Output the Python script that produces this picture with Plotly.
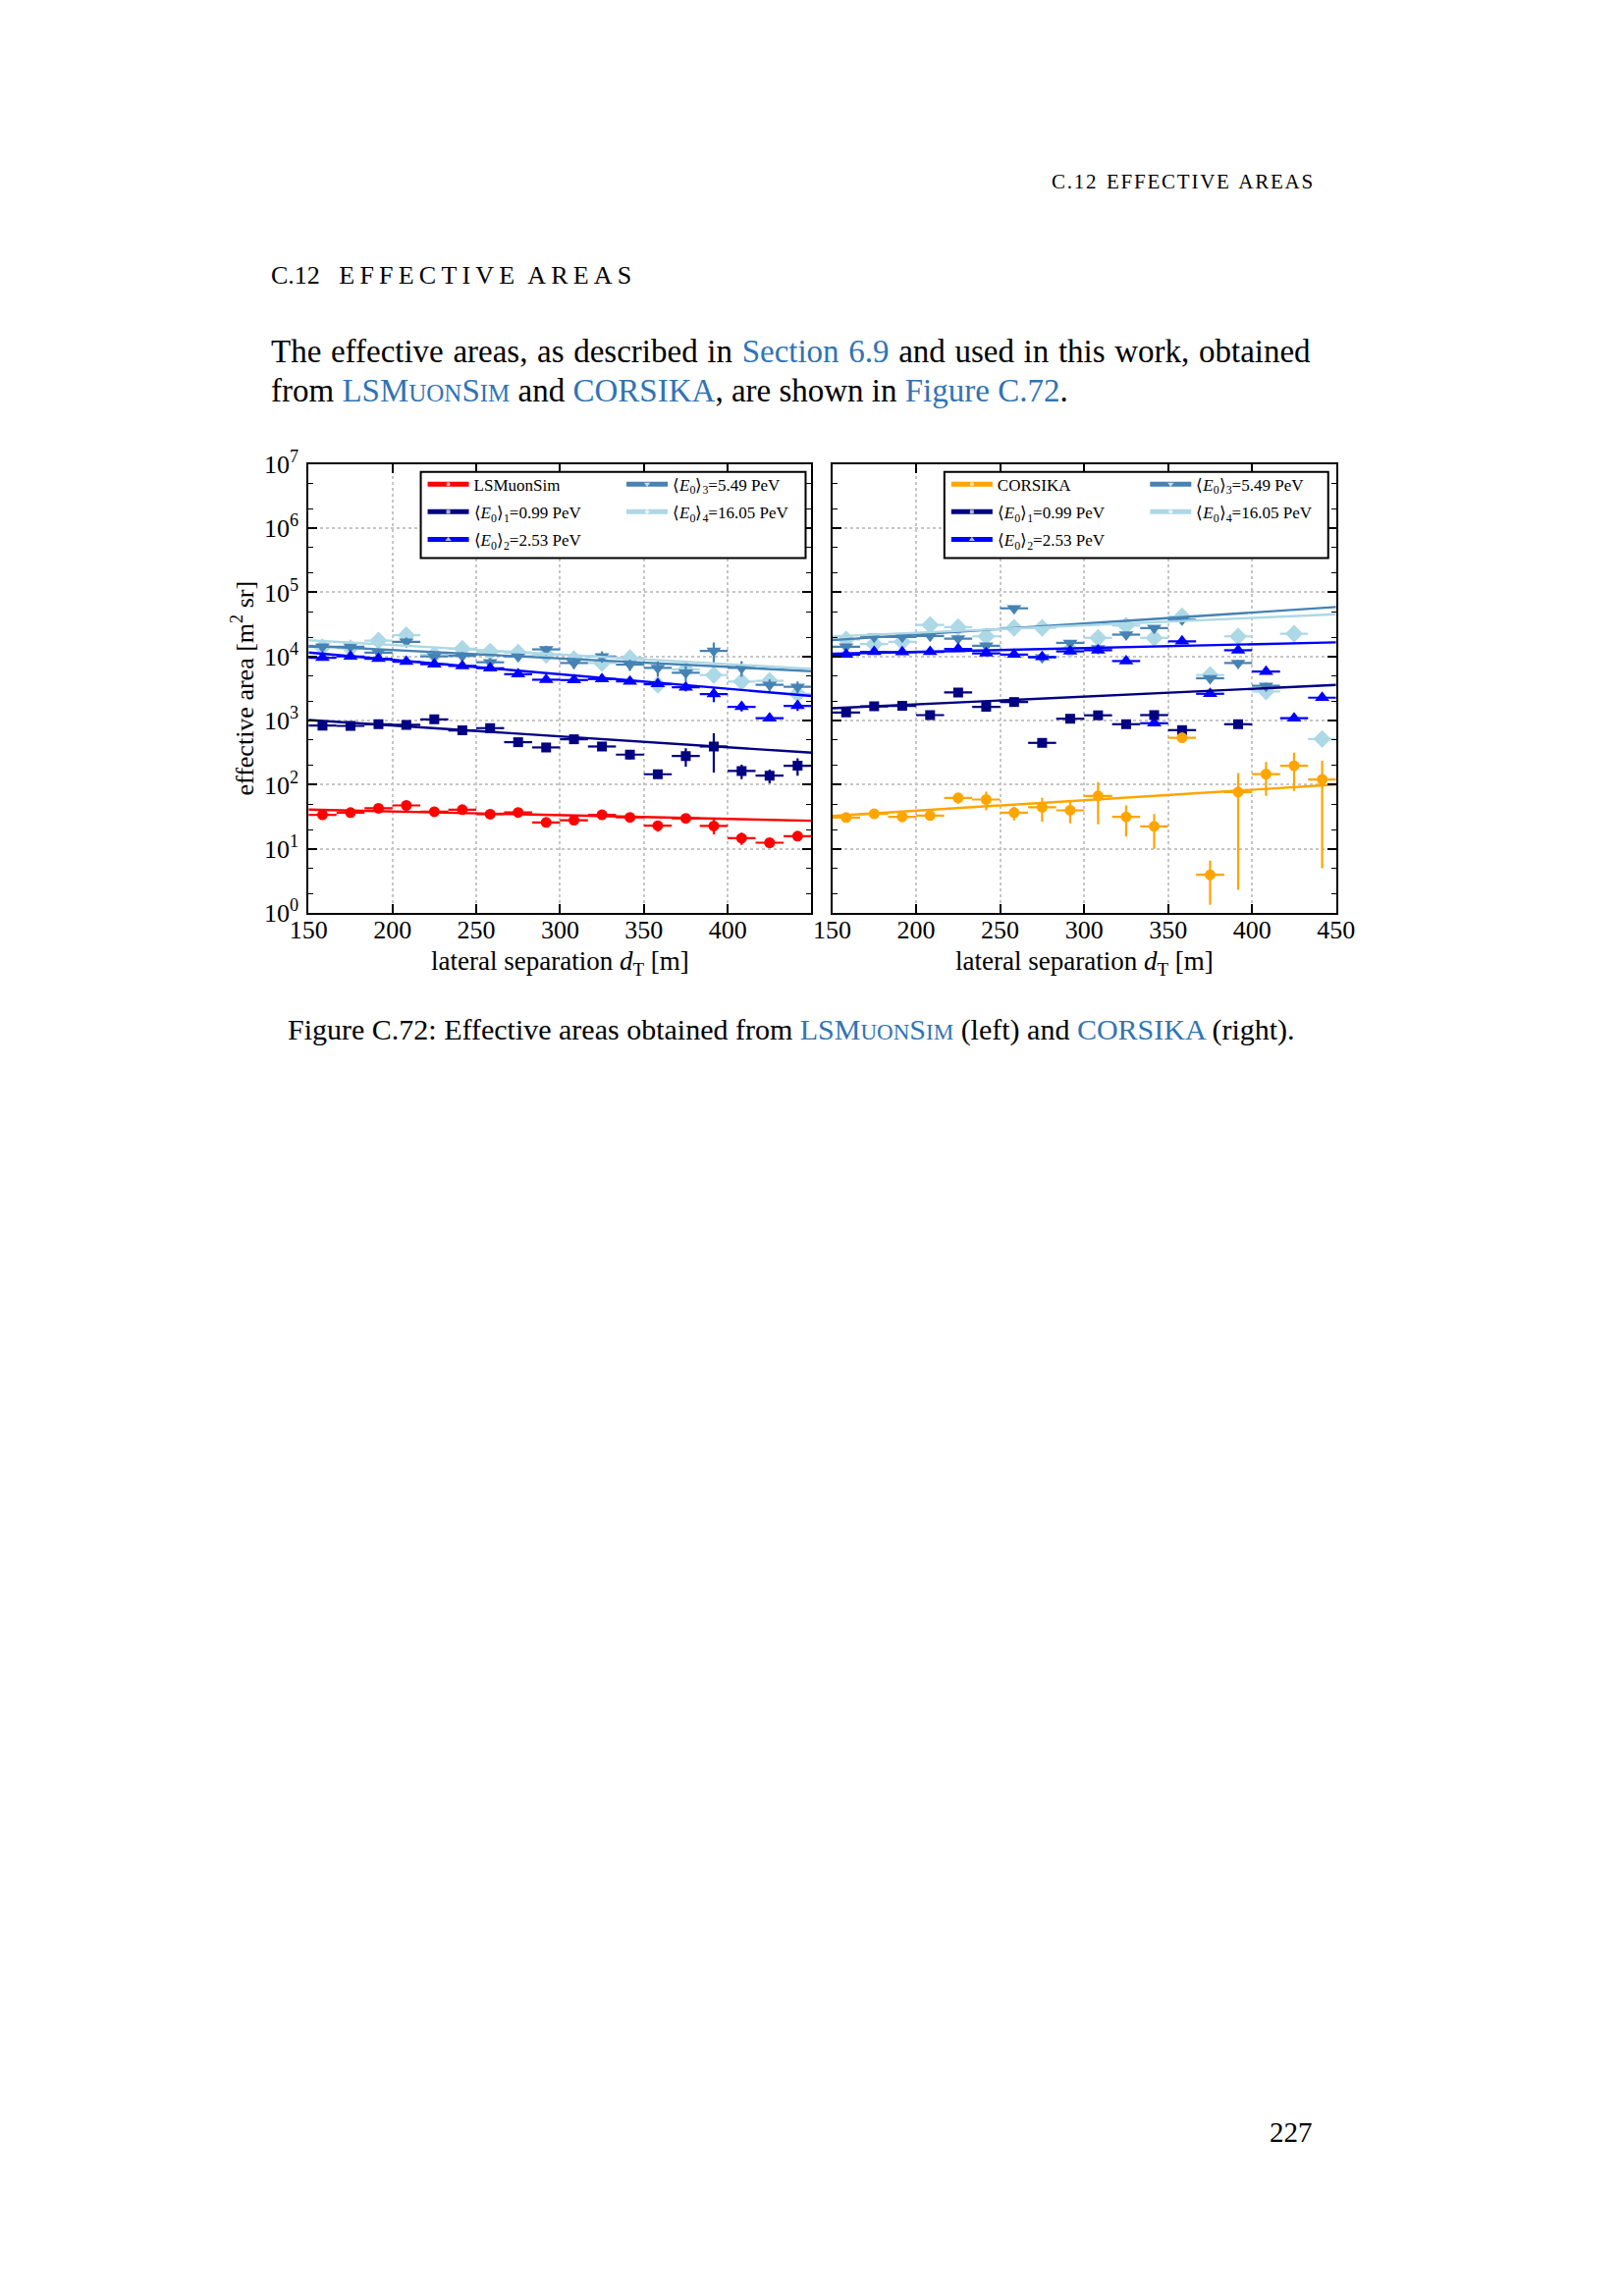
import plotly.graph_objects as go

# ---------------- data ----------------
x_centers = [158.3, 175.0, 191.7, 208.3, 225.0, 241.7, 258.3, 275.0, 291.7,
             308.3, 325.0, 341.7, 358.3, 375.0, 391.7, 408.3, 425.0, 441.7]
x_fit = [150, 450]
x_ticks = [150, 200, 250, 300, 350, 400, 450]
x_ticktext_left = ["150", "200", "250", "300", "350", "400", ""]
x_ticktext_right = ["150", "200", "250", "300", "350", "400", "450"]
y_ticks = [1, 10, 100, 1000, 10000, 100000, 1000000, 10000000]
y_ticktext = ["10<sup>0</sup>", "10<sup>1</sup>", "10<sup>2</sup>", "10<sup>3</sup>",
              "10<sup>4</sup>", "10<sup>5</sup>", "10<sup>6</sup>", "10<sup>7</sup>"]

series_names_left = ["LSMuonSim",
                     "⟨<i>E</i><sub>0</sub>⟩<sub>1</sub>=0.99 PeV",
                     "⟨<i>E</i><sub>0</sub>⟩<sub>2</sub>=2.53 PeV",
                     "⟨<i>E</i><sub>0</sub>⟩<sub>3</sub>=5.49 PeV",
                     "⟨<i>E</i><sub>0</sub>⟩<sub>4</sub>=16.05 PeV"]
series_names_right = ["CORSIKA"] + series_names_left[1:]

# LSMuonSim (left panel)
lsm_all = [34, 36.8, 43, 47.7, 38, 41, 34.8, 37, 25.9, 28, 34, 31, 23, 30, 22.8, 14.7, 12.5, 15.8]
lsm_all_err = [2.5, 2.5, 3, 3.5, 3, 3, 2.5, 3, 2.5, 3, 3.5, 3.5, 4.5, 3.5, 6, 3.2, 1.8, 2]
lsm_e1 = [838, 828, 879, 858, 1048, 703, 764, 461, 382, 512, 395, 295, 146, 281, 395, 164, 139, 198]
lsm_e1_err = [60, 55, 60, 60, 80, 60, 65, 45, 35, 80, 45, 45, 12, 90, 240, 42, 34, 60]
lsm_e2 = [9550, 10000, 9210, 8280, 7550, 7120, 6550, 5300, 4340, 4290, 4450, 4090, 3720, 3310, 2590, 1640, 1090, 1700]
lsm_e2_err = [500, 500, 500, 450, 400, 400, 400, 350, 300, 300, 350, 350, 350, 450, 650, 250, 120, 280]
lsm_e3 = [14200, 14200, 11500, 16900, 10000, 10200, 8110, 10000, 12900, 7910, 10000, 7460, 6640, 5570, 12200, 6640, 3610, 3370]
lsm_e3_err = [1500, 1500, 1700, 2800, 1500, 1500, 1300, 1400, 1800, 1500, 2000, 1500, 1800, 1500, 4300, 1800, 800, 700]
lsm_e4 = [13900, 13400, 17700, 21400, 10600, 13200, 11900, 11500, 10600, 9100, 7910, 9440, 3610, 6270, 5140, 4060, 4160, 2610]
lsm_e4_err = [1300, 1300, 1700, 2500, 1200, 1300, 1200, 1100, 1400, 1000, 1100, 1300, 400, 800, 700, 600, 500, 300]
lsm_fit_150 = [41, 1023, 11500, 14700, 17900]
lsm_fit_450 = [27.5, 316, 2420, 5900, 6400]

# CORSIKA (right panel)
cor_all = [30.9, 35.2, 31.6, 33.1, 62.5, 58.9, 36.8, 44.5, 40.0, 67.1, 31.6, 22.5, 540, 3.95, 77.3, 147, 198, 121]
cor_all_err = [2, 2.2, 2.2, 5, 12, 19, 9, 18, 15, 43, 16, 12.5, 90, 2.6, 75, 80, 118, 116]
cor_e1 = [1340, 1670, 1700, 1220, 2750, 1640, 1950, 450, 1070, 1210, 879, 1220, 711, None, 879, None, None, None]
cor_e1_err = [100, 100, 100, 90, 230, 140, 150, 35, 80, 90, 70, 100, 60, 0, 70, 0, 0, 0]
cor_e2 = [10700, 11800, 11700, 11800, 13100, 11200, 10700, 9800, 12000, 12500, 8480, 910, 17200, 2620, 12500, 5820, 1090, 2280]
cor_e2_err = [500, 500, 500, 500, 700, 600, 550, 500, 600, 600, 500, 60, 1200, 200, 900, 450, 90, 170]
cor_e3 = [14200, 20200, 20200, 20900, 19000, 14700, 56300, 9660, 16300, 13400, 21900, 27700, 37500, 4570, 7910, 3490, None, None]
cor_e3_err = [1500, 2000, 2000, 2200, 2000, 1600, 5000, 900, 1500, 1500, 2000, 2500, 3500, 500, 900, 400, 0, 0]
cor_e4 = [18400, 15600, 16900, 31000, 28600, 20600, 28000, 28000, 12900, 19500, 30300, 19500, 42100, 5140, 20600, 2860, 22600, 518]
cor_e4_err = [1500, 1300, 1400, 2500, 2500, 1800, 2500, 2400, 1100, 1700, 2500, 1700, 3500, 500, 1800, 300, 1900, 50]
cor_fit_150 = [32.7, 1560, 11000, 18000, 20500]
cor_fit_450 = [101, 3600, 16600, 59000, 45500]

# ---------------- style ----------------
W, H = 1654, 2339
SERIF = "Liberation Serif"
LINK = "#2f74b5"
colors_left = ["#ff0000", "#000080", "#0000ff", "#4682b4", "#add8e6"]
colors_right = ["#ffa500", "#000080", "#0000ff", "#4682b4", "#add8e6"]
symbols = ["circle", "square", "triangle-up", "triangle-down", "diamond"]
sizes = [11, 10, 13, 13, 14]

# page-placement calibration (rendered = A*set + B)
AX, BX = 0.9735, 30.4
AY, BY = 0.987, 24.8


def px(x):
    return ((x - BX) / AX) / W


def py(y):
    return 1 - ((y - BY) / AY) / H


fig = go.Figure()

half_bin = (x_centers[1] - x_centers[0]) / 2

panels = [
    dict(xa="x", ya="y", vals=[lsm_all, lsm_e1, lsm_e2, lsm_e3, lsm_e4],
         errs=[lsm_all_err, lsm_e1_err, lsm_e2_err, lsm_e3_err, lsm_e4_err],
         f0=lsm_fit_150, f1=lsm_fit_450, colors=colors_left, names=series_names_left,
         legends=["legend", "legend", "legend", "legend2", "legend2"], tag="L"),
    dict(xa="x2", ya="y2", vals=[cor_all, cor_e1, cor_e2, cor_e3, cor_e4],
         errs=[cor_all_err, cor_e1_err, cor_e2_err, cor_e3_err, cor_e4_err],
         f0=cor_fit_150, f1=cor_fit_450, colors=colors_right, names=series_names_right,
         legends=["legend3", "legend3", "legend3", "legend4", "legend4"], tag="R"),
]

for p in panels:
    for i in [4, 3, 2, 1, 0]:
        c = p["colors"][i]
        fig.add_trace(go.Scatter(
            x=x_centers, y=p["vals"][i], mode="markers", xaxis=p["xa"], yaxis=p["ya"],
            marker=dict(symbol=symbols[i], size=sizes[i], color=c, line=dict(width=0)),
            error_y=dict(type="data", array=p["errs"][i], color=c, thickness=2.2, width=0),
            error_x=dict(type="constant", value=half_bin, color=c, thickness=2.2, width=0),
            showlegend=False, hoverinfo="skip"))
    for i in range(5):
        c = p["colors"][i]
        fig.add_trace(go.Scatter(
            x=x_fit, y=[p["f0"][i], p["f1"][i]], mode="lines+markers",
            xaxis=p["xa"], yaxis=p["ya"], name=p["names"][i],
            legendgroup=p["tag"] + str(i),
            line=dict(color=c, width=2.4),
            marker=dict(symbol=symbols[i], size=[0, 0], color=c),
            legend=p["legends"][i], showlegend=True, hoverinfo="skip"))

axis_common = dict(showline=True, linewidth=2, linecolor="black", mirror="ticks",
                   ticks="inside", ticklen=9, tickwidth=1.5, tickcolor="black",
                   showgrid=True, gridcolor="#c6c6c6", griddash="dot", gridwidth=1.5,
                   zeroline=False, tickfont=dict(family=SERIF, size=26, color="black"))

X_L = [316, 827]
X_R = [848, 1360]
Y_T, Y_B = 472, 930
minor_y = dict(ticks="inside", ticklen=5, tickcolor="black", tickwidth=1.2, showgrid=False)

fig.update_layout(
    width=W, height=H, margin=dict(l=0, r=0, t=0, b=0),
    paper_bgcolor="white", plot_bgcolor="white",
    xaxis=dict(domain=[px(X_L[0]), px(X_L[1])], range=[150, 450], tickvals=x_ticks,
               ticktext=x_ticktext_left, anchor="y", ticklabelstandoff=-7, **axis_common),
    xaxis2=dict(domain=[px(X_R[0]), px(X_R[1])], range=[150, 450], tickvals=x_ticks,
                ticktext=x_ticktext_right, anchor="y2", ticklabelstandoff=-7, **axis_common),
    yaxis=dict(domain=[py(Y_B), py(Y_T)], type="log", range=[0, 7], tickvals=y_ticks,
               ticktext=y_ticktext, anchor="x", minor=minor_y, ticklabelstandoff=3,
               **axis_common),
    yaxis2=dict(domain=[py(Y_B), py(Y_T)], type="log", range=[0, 7], tickvals=y_ticks,
                ticktext=y_ticktext, anchor="x2", showticklabels=False, minor=minor_y,
                **axis_common),
    showlegend=True,
)

leg_common = dict(xanchor="left", yanchor="top", bgcolor="rgba(0,0,0,0)", borderwidth=0,
                  font=dict(family=SERIF, size=17, color="black"), itemwidth=42,
                  itemsizing="constant", tracegroupgap=3, orientation="v")
fig.update_layout(
    legend=dict(x=px(432), y=py(475), **leg_common),
    legend2=dict(x=px(634), y=py(475), **leg_common),
    legend3=dict(x=px(964), y=py(475), **leg_common),
    legend4=dict(x=px(1166), y=py(475), **leg_common),
)

# legend frames
for x0, x1 in [(430, 821), (962, 1352)]:
    fig.add_shape(type="rect", xref="paper", yref="paper", x0=px(x0), x1=px(x1),
                  y0=py(568), y1=py(480), line=dict(color="black", width=2),
                  fillcolor="white", layer="above")

HS = "\u200a"
ann = []
header = HS.join("C.12") + "  " + HS.join("EFFECTIVE") + "  " + HS.join("AREAS")
ann.append(dict(x=px(1338), y=py(184), xanchor="right", yanchor="middle",
                text=header, font=dict(family=SERIF, size=21, color="black")))
heading = "C.12   " + "\u2009".join("EFFECTIVE") + "\u2002" + "\u2009".join("AREAS")
ann.append(dict(x=px(276), y=py(280), xanchor="left", yanchor="middle",
                text=heading, font=dict(family=SERIF, size=26, color="black")))
lsm_sc = "LSM<span style='font-size:25px'>UON</span>S<span style='font-size:25px'>IM</span>"
lsm_sc_cap = "LSM<span style='font-size:23px'>UON</span>S<span style='font-size:23px'>IM</span>"
line1 = ("<span style='word-spacing:1.4px'>The effective areas, as described in "
         "<span style='color:%s'>Section 6.9</span> "
         "and used in this work, obtained</span>" % LINK)
line2 = ("from <span style='color:%s'>%s</span> and <span style='color:%s'>CORSIKA</span>, "
         "are shown in <span style='color:%s'>Figure C.72</span>." % (LINK, lsm_sc, LINK, LINK))
ann.append(dict(x=px(276), y=py(357), xanchor="left", yanchor="middle", text=line1,
                font=dict(family=SERIF, size=33, color="black")))
ann.append(dict(x=px(276), y=py(397), xanchor="left", yanchor="middle", text=line2,
                font=dict(family=SERIF, size=33, color="black")))
caption = ("Figure C.72: Effective areas obtained from <span style='color:%s'>%s</span> (left) "
           "and <span style='color:%s'>CORSIKA</span> (right)." % (LINK, lsm_sc_cap, LINK))
ann.append(dict(x=px(807), y=py(1049), xanchor="center", yanchor="middle", text=caption,
                font=dict(family=SERIF, size=30, color="black")))
ann.append(dict(x=px(1338), y=py(2173), xanchor="right", yanchor="middle", text="227",
                font=dict(family=SERIF, size=29, color="black")))
# axis titles
ann.append(dict(x=px(249), y=py(701), xanchor="center", yanchor="middle", textangle=-90,
                text="effective area [m<sup>2</sup> sr]", font=dict(family=SERIF, size=26, color="black")))
for xl, xr in [X_L, X_R]:
    ann.append(dict(x=px((xl + xr) / 2), y=py(981), xanchor="center", yanchor="middle",
                    text="lateral separation <i>d</i><sub>T</sub> [m]",
                    font=dict(family=SERIF, size=27, color="black")))
for a in ann:
    a.update(xref="paper", yref="paper", showarrow=False)
fig.update_layout(annotations=ann)

fig.write_html("out.html")
